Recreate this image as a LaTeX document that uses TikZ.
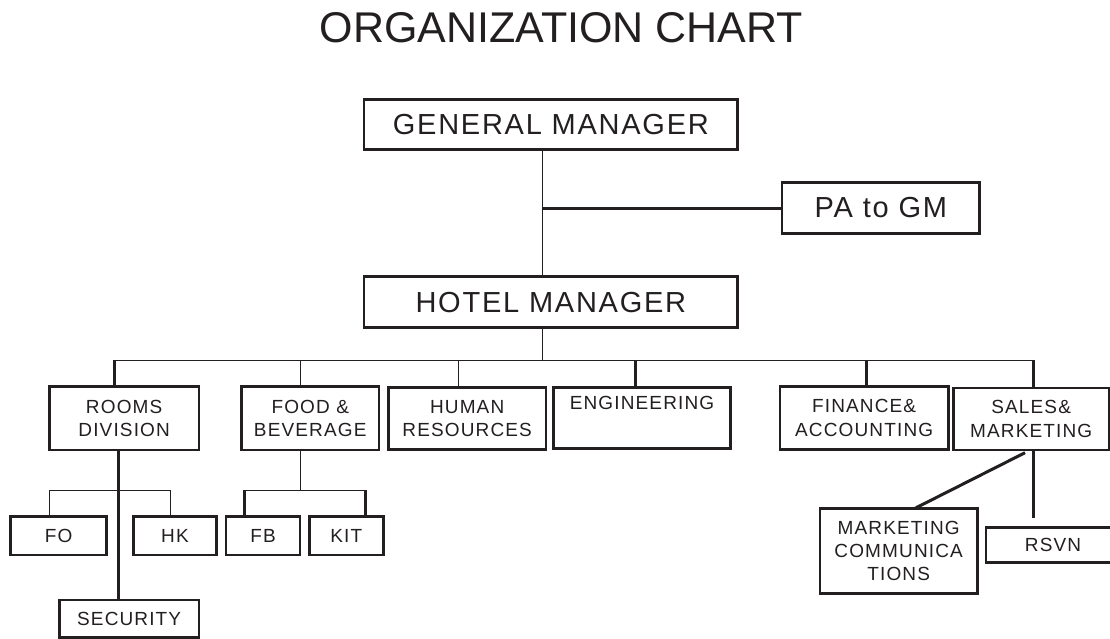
\documentclass[tikz,border=0pt]{standalone}
\usepackage{fontspec}
\setmainfont{Liberation Sans}
\newfontfamily\boxfont[LetterSpace=6]{Liberation Sans}
\definecolor{ink}{HTML}{231F20}
\begin{document}
\begin{tikzpicture}[x=1pt,y=-1pt,
  box/.style={draw=ink, line width=2.5pt, inner sep=0pt, align=center, text=ink},
  bigbox/.style={box, font=\boxfont\fontsize{29}{34}\selectfont},
  dept/.style={box, font=\boxfont\fontsize{19}{23.3}\selectfont},
  thinline/.style={draw=ink, line width=0.9pt},
  thickline/.style={draw=ink, line width=3pt}]
\useasboundingbox (0,0) rectangle (1110,639);
\node[anchor=base, text=ink, font=\fontsize{43}{50}\selectfont] (title) at (561.5,43) {ORGANIZATION CHART};
% top
\node[bigbox, minimum width=373.7pt, minimum height=50pt] (gm) at (550.85,124.3) {GENERAL MANAGER};
\node[bigbox, minimum width=197.7pt, minimum height=50.6pt] (pa) at (880.85,208) {PA to GM};
\node[bigbox, minimum width=373.7pt, minimum height=50.8pt] (hm) at (550.85,302.1) {HOTEL MANAGER};
% departments
\node[dept, minimum width=149.7pt, minimum height=63.3pt] (rooms) at (124.15,418.35) {ROOMS\\DIVISION};
\node[dept, minimum width=137.5pt, minimum height=63.3pt] (food) at (310.25,418.35) {FOOD \&\\BEVERAGE};
\node[dept, minimum width=157.7pt, minimum height=62pt] (hr) at (467.15,418.3) {HUMAN\\RESOURCES};
\node[dept, minimum width=177.4pt, minimum height=61pt] (eng) at (642,417.8) {ENGINEERING\\\strut};
\node[dept, minimum width=168.3pt, minimum height=62.6pt] (fin) at (864.15,418) {FINANCE\&\\ACCOUNTING};
\node[dept, minimum width=155.7pt, minimum height=62pt] (sales) at (1031.15,419) {SALES\&\\MARKETING};
% sub units
\node[dept, minimum width=96pt, minimum height=38.3pt] (fo) at (58.7,535.85) {FO};
\node[dept, minimum width=83.4pt, minimum height=38.3pt] (hk) at (175,535.85) {HK};
\node[dept, minimum width=74pt, minimum height=38.3pt] (fb) at (263,535.85) {FB};
\node[dept, minimum width=74pt, minimum height=38.3pt] (kit) at (346.3,535.85) {KIT};
\node[dept, minimum width=139.7pt, minimum height=37.7pt] (sec) at (129.15,618.85) {SECURITY};
\node[dept, minimum width=157.3pt, minimum height=85pt] (mc) at (898.65,550.8) {MARKETING\\COMMUNICA\\TIONS};
\node[dept, minimum width=134pt, minimum height=35pt] (rsvn) at (1053,545.2) {RSVN};
% helper coordinates
\coordinate (spine) at (542,0);
\coordinate (bar) at (0,360);
\coordinate (jrooms) at (114.3,360);
\coordinate (jfood) at (300,360);
\coordinate (jhr) at (458,360);
\coordinate (jeng) at (635.7,360);
\coordinate (jfin) at (866.7,360);
\coordinate (jsales) at (1033.3,360);
\coordinate (rx) at (118.3,0);
\coordinate (rjl) at (49.3,490);
\coordinate (rjr) at (170.7,490);
\coordinate (fjl) at (244.3,490);
\coordinate (fjr) at (365,490);
\coordinate (sdiag) at (1025,452.7);
\coordinate (mctop) at (915,508.3);
\coordinate (send) at (1033.3,518.3);
% connectors
\draw[thinline] (spine |- gm.south) -- (spine |- hm.north);
\draw[thickline] (spine |- pa.west) -- (pa.west);
\draw[thinline] (spine |- hm.south) -- (spine |- bar);
\draw[thinline] (jrooms) -- (jsales);
\draw[thickline] (jrooms) -- (jrooms |- rooms.north);
\draw[thinline] (jfood) -- (jfood |- food.north);
\draw[thinline] (jhr) -- (jhr |- hr.north);
\draw[thickline] (jeng) -- (jeng |- eng.north);
\draw[thickline] (jfin) -- (jfin |- fin.north);
\draw[thickline] (jsales) -- (jsales |- sales.north);
% rooms division
\draw[thickline] (rx |- rooms.south) -- (rx |- sec.north);
\draw[thinline] (rjl) -- (rjr);
\draw[thinline] (rjl) -- (rjl |- fo.north);
\draw[thinline] (rjr) -- (rjr |- hk.north);
% food and beverage
\draw[thinline] (jfood |- food.south) -- (jfood |- fjl);
\draw[thinline] (fjl) -- (fjr);
\draw[thickline] (fjl) -- (fjl |- fb.north);
\draw[thickline] (fjr) -- (fjr |- kit.north);
% sales
\draw[thickline] (sdiag) -- (mctop);
\draw[thickline] (jsales |- sales.south) -- (send);
\end{tikzpicture}
\end{document}
